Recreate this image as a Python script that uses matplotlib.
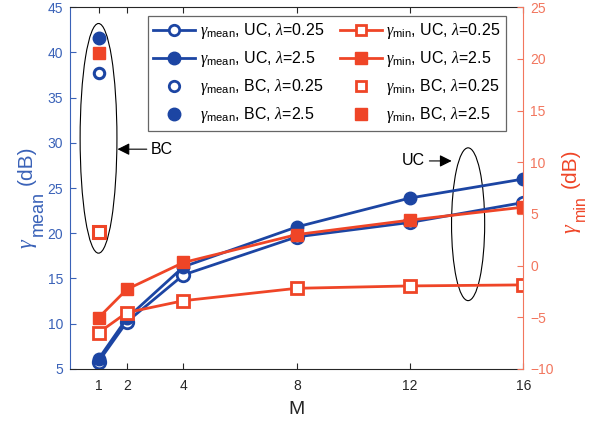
import numpy as np
import matplotlib
matplotlib.use("Agg")
import matplotlib.pyplot as plt
from matplotlib.lines import Line2D
from matplotlib.patches import Ellipse

plt.rcParams['font.family'] = ['Liberation Sans', 'DejaVu Sans']
plt.rcParams['mathtext.fontset'] = 'custom'
plt.rcParams['mathtext.rm'] = 'Liberation Sans'
plt.rcParams['mathtext.it'] = 'Liberation Serif:italic'

# number of antennas
M = [1, 2, 4, 8, 12, 16]

# gamma_mean (dB), left axis
mean_uc_025 = [5.8, 10.2, 15.4, 19.6, 21.2, 23.4]
mean_uc_25 = [6.1, 10.6, 16.3, 20.7, 23.9, 26.0]
mean_bc_025 = 37.7
mean_bc_25 = 41.6

# gamma_min (dB), right axis
min_uc_025 = [-6.5, -4.55, -3.4, -2.2, -1.97, -1.87]
min_uc_25 = [-5.05, -2.3, 0.3, 3.0, 4.4, 5.65]
min_bc_025 = 3.2
min_bc_25 = 20.6

blue = '#1c45a3'
blue_ax = '#3a62b8'
red = '#ef4527'
red_ax = '#f2765e'
dark = '#262626'

W, H = 590, 425
fig = plt.figure(figsize=(W / 100, H / 100), dpi=100)
ax = fig.add_axes([0.119, 0.132, 0.768, 0.851])
ax2 = ax.twinx()

lw = 2.0
ms_c = 9
ms_s = 8.5

# blue curves
ax.plot(M, mean_uc_025, '-o', color=blue, lw=lw, ms=ms_c, mfc='white', mec=blue, mew=2)
ax.plot(M, mean_uc_25, '-o', color=blue, lw=lw, ms=ms_c, mfc=blue, mec=blue)
ax.plot([1], [mean_bc_025], 'o', ms=ms_c - 1.5, mfc='white', mec=blue, mew=2.2)
ax.plot([1], [mean_bc_25], 'o', ms=ms_c, mfc=blue, mec=blue)

# red curves
ax2.plot(M, min_uc_025, '-s', color=red, lw=lw, ms=ms_s, mfc='white', mec=red, mew=2)
ax2.plot(M, min_uc_25, '-s', color=red, lw=lw, ms=ms_s, mfc=red, mec=red)
ax2.plot([1], [min_bc_025], 's', ms=ms_s, mfc='white', mec=red, mew=2.2)
ax2.plot([1], [min_bc_25], 's', ms=ms_s, mfc=red, mec=red)

ax.set_xlim(0, 16)
ax.set_ylim(5, 45)
ax2.set_ylim(-10, 25)
ax.set_xticks(M)
ax.set_yticks(np.arange(5, 46, 5))
ax2.set_yticks(np.arange(-10, 26, 5))

ax.tick_params(axis='both', direction='in', length=4, labelsize=10, top=True, pad=5)
ax.tick_params(axis='x', colors=dark, pad=7)
ax.tick_params(axis='y', colors=blue_ax)
ax2.tick_params(axis='y', direction='in', length=4, labelsize=10, colors=red_ax, pad=5)

ax.spines['left'].set_color(blue_ax)
ax.spines['bottom'].set_color(dark)
ax.spines['top'].set_color(dark)
ax2.spines['right'].set_color(red_ax)
ax2.spines['left'].set_visible(False)
ax2.spines['top'].set_visible(False)
ax2.spines['bottom'].set_visible(False)
ax.spines['right'].set_visible(False)

ax.set_xlabel('M', fontsize=14, color=dark, labelpad=6)


def vtext(x, y, s, size, color, **kw):
    # rotated label piece placed at pixel position (baseline, start)
    fig.text(x / W, 1 - y / H, s, rotation=90, rotation_mode='anchor', ha='left',
             va='baseline', fontsize=size, color=color, **kw)


# y labels with MATLAB-sized subscripts
vtext(32, 248, 'γ', 16, blue_ax, family='Liberation Serif', style='italic')
vtext(43, 236, 'mean', 13, blue_ax)
vtext(32, 185, '(dB)', 15, blue_ax)
vtext(576, 233, 'γ', 16, red, family='Liberation Serif', style='italic')
vtext(585, 221, 'min', 11.5, red)
vtext(576, 188, '(dB)', 15, red)

# ellipses and annotations
ax.add_patch(Ellipse((1, 30.5), 1.3, 25.4, fill=False, ec='k', lw=0.8))
ax.add_patch(Ellipse((14.05, 21.0), 1.17, 16.9, fill=False, ec='k', lw=0.8))
ax.annotate('BC', xy=(1.67, 29.3), xytext=(2.85, 29.3), fontsize=11.5, va='center', ha='left',
            arrowprops=dict(arrowstyle='-|>', color='k', lw=0.8, mutation_scale=18, shrinkA=1, shrinkB=0))
ax.annotate('UC', xy=(13.47, 28.0), xytext=(11.72, 28.0), fontsize=11.5, va='center', ha='left',
            arrowprops=dict(arrowstyle='-|>', color='k', lw=0.8, mutation_scale=18, shrinkA=1, shrinkB=0))

# legend
lms = 7.5
handles = [
    Line2D([], [], color=blue, lw=lw, marker='o', ms=lms, mfc='white', mec=blue, mew=2),
    Line2D([], [], color=blue, lw=lw, marker='o', ms=lms + 1.5, mfc=blue, mec=blue),
    Line2D([], [], ls='none', marker='o', ms=lms, mfc='white', mec=blue, mew=2),
    Line2D([], [], ls='none', marker='o', ms=lms + 1.5, mfc=blue, mec=blue),
    Line2D([], [], color=red, lw=lw, marker='s', ms=lms, mfc='white', mec=red, mew=2),
    Line2D([], [], color=red, lw=lw, marker='s', ms=lms + 0.5, mfc=red, mec=red),
    Line2D([], [], ls='none', marker='s', ms=lms, mfc='white', mec=red, mew=2),
    Line2D([], [], ls='none', marker='s', ms=lms + 0.5, mfc=red, mec=red),
]
labels = [
    r'$\gamma_{\rm mean}$, UC, $\lambda$=0.25',
    r'$\gamma_{\rm mean}$, UC, $\lambda$=2.5',
    r'$\gamma_{\rm mean}$, BC, $\lambda$=0.25',
    r'$\gamma_{\rm mean}$, BC, $\lambda$=2.5',
    r'$\gamma_{\rm min}$, UC, $\lambda$=0.25',
    r'$\gamma_{\rm min}$, UC, $\lambda$=2.5',
    r'$\gamma_{\rm min}$, BC, $\lambda$=0.25',
    r'$\gamma_{\rm min}$, BC, $\lambda$=2.5',
]
leg = ax2.legend(handles, labels, ncol=2, loc='upper right', bbox_to_anchor=(0.9625, 0.977),
                 fontsize=11.5, frameon=True, fancybox=False, edgecolor='#404040',
                 handlelength=2.6, handletextpad=0.3, columnspacing=1.0,
                 labelspacing=0.5, borderpad=0.35, borderaxespad=0)
leg.get_frame().set_linewidth(0.9)

fig.savefig('out.png', dpi=100)
